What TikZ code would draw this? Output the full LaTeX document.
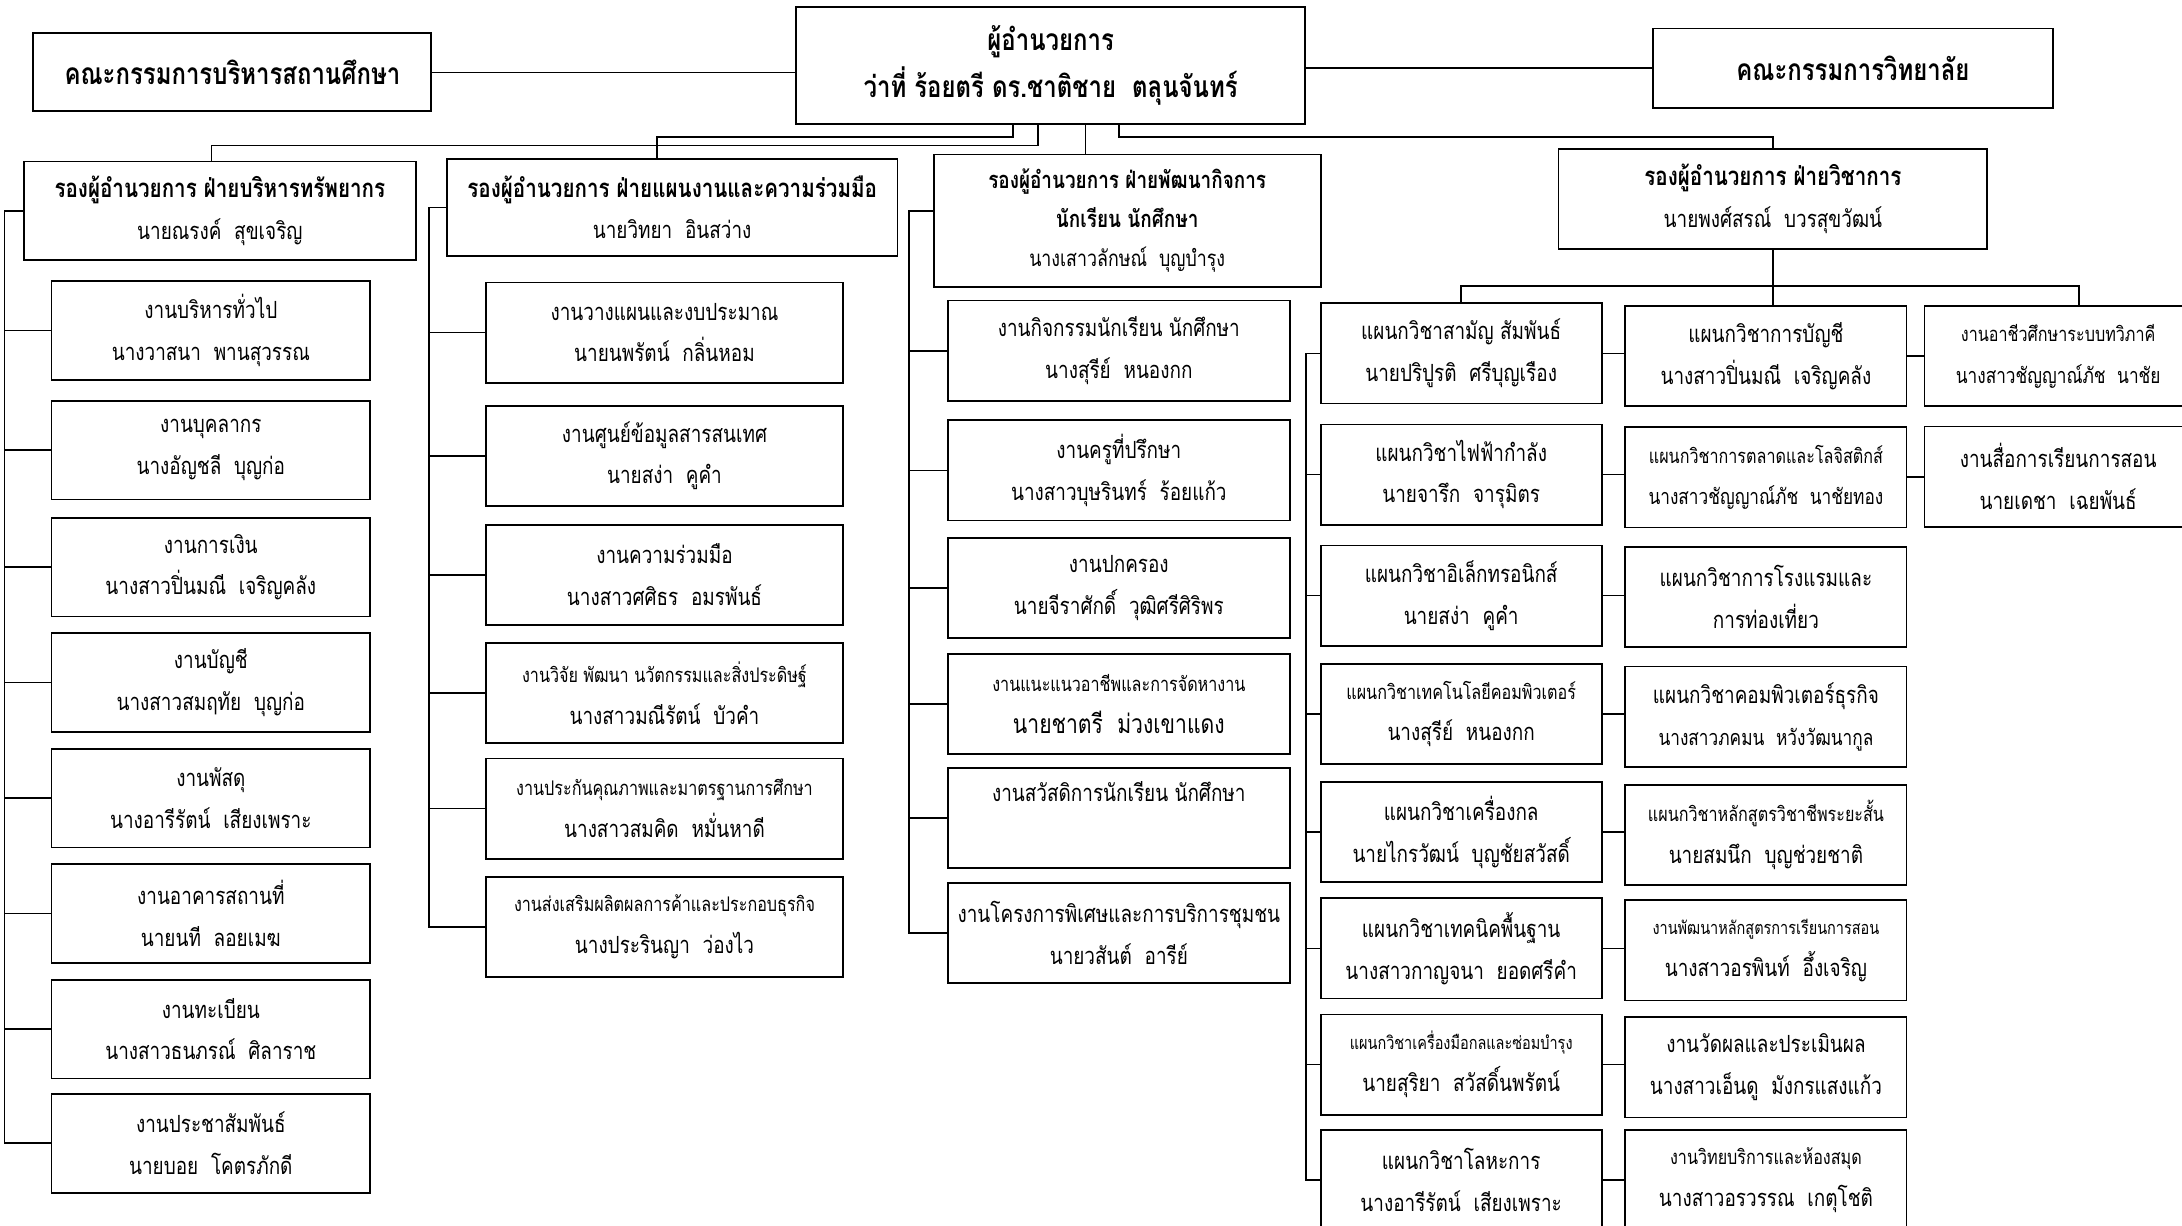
\documentclass[tikz,border=0pt]{standalone}
\usepackage{fontspec}
\setmainfont{Loma}[Script=Thai,FakeStretch=0.8]
\usetikzlibrary{positioning,calc}

% font sizes (1 unit = 1pt)
\newcommand\szN{\fontsize{17}{30}\selectfont}
\newcommand\szS{\fontsize{14.5}{30}\selectfont}
\newcommand\szX{\fontsize{13}{30}\selectfont}
\newcommand\szM{\fontsize{15.5}{30}\selectfont}
\newcommand\szL{\fontsize{19}{30}\selectfont}
\newcommand\szB{\fontsize{18.5}{30}\selectfont}
\newcommand\szH{\fontsize{16}{28}\selectfont}
\newcommand\szT{\fontsize{21.5}{34}\selectfont}

\tikzset{
  box/.style={draw, line width=1.3pt, align=center, inner sep=0pt, font=\szN},
  topbox/.style={box, font=\szT\bfseries},
  link/.style={line width=1.2pt},
}

\begin{document}
\begin{tikzpicture}[x=1pt, y=-1pt]
    \fill[white] (0,0) rectangle (1568,881);
    \useasboundingbox (0,0) rectangle (1568,881);

    % Director and committees
    \node[topbox, minimum width=286pt, minimum height=56pt] (cmtL) at (167,52) {คณะกรรมการบริหารสถานศึกษา};
    \node[topbox, minimum width=366pt, minimum height=84pt] (dir) at (755,47) {ผู้อำนวยการ\\ว่าที่ ร้อยตรี ดร.ชาติชาย~~ตลุนจันทร์};
    \node[topbox, minimum width=287pt, minimum height=57pt] (cmtR) at (1331.5,49) {คณะกรรมการวิทยาลัย};
    \draw[link] (cmtL.east) -- (cmtL.east -| dir.west);
    \draw[link] (dir.east |- cmtR.west) -- (cmtR.west);

    % Deputy directors
    \node[box, minimum width=282pt, minimum height=71pt] (hA) at (158,151.5) {{\szB\bfseries รองผู้อำนวยการ ฝ่ายบริหารทรัพยากร}\\นายณรงค์~~สุขเจริญ};
    \node[box, minimum width=324pt, minimum height=70pt] (hB) at (483,149) {{\szB\bfseries รองผู้อำนวยการ ฝ่ายแผนงานและความร่วมมือ}\\นายวิทยา~~อินสว่าง};
    \node[box, minimum width=278pt, minimum height=95pt, font=\szH] (hC) at (810,158.5) {{\fontsize{17}{28}\selectfont\bfseries รองผู้อำนวยการ ฝ่ายพัฒนากิจการ}\\{\fontsize{17}{28}\selectfont\bfseries นักเรียน นักศึกษา}\\นางเสาวลักษณ์~~บุญบำรุง};
    \node[box, minimum width=308pt, minimum height=72pt] (hD) at (1274,143) {{\szB\bfseries รองผู้อำนวยการ ฝ่ายวิชาการ}\\นายพงศ์สรณ์~~บวรสุขวัฒน์};

    \draw[link] ([xshift=-9pt]dir.south) -- ++(0,15) -| ([xshift=-6pt]hA.north);
    \draw[link] ([xshift=-27pt]dir.south) -- ++(0,9) -| ([xshift=-11pt]hB.north);
    \draw[link] ([xshift=25pt]dir.south) -- ([xshift=25pt]dir.south |- hC.north);
    \draw[link] ([xshift=49pt]dir.south) -- ++(0,9) -| (hD.north);

    % Resources
    \foreach \i/\y/\txt in {
        1/237.5/{งานบริหารทั่วไป\\นางวาสนา~~พานสุวรรณ},
        2/323.5/{งานบุคลากร\\นางอัญชลี~~บุญก่อ},
        3/407.5/{งานการเงิน\\นางสาวปิ่นมณี~~เจริญคลัง},
        4/490.5/{งานบัญชี\\นางสาวสมฤทัย~~บุญก่อ},
        5/573.5/{งานพัสดุ\\นางอารีรัตน์~~เสียงเพราะ},
        6/656.5/{งานอาคารสถานที่\\นายนที~~ลอยเมฆ},
        7/739.5/{งานทะเบียน\\นางสาวธนภรณ์~~ศิลาราช},
        8/821.5/{งานประชาสัมพันธ์\\นายบอย~~โคตรภักดี}} {
        \node[box, minimum width=229pt, minimum height=71pt] (a\i) at (151.5,\y) {\txt};
        \draw[link] (hA.west) -- ++(-13,0) |- (a\i.west);
    }

    % Planning and cooperation
    \foreach \i/\y/\txt in {
        1/239/{งานวางแผนและงบประมาณ\\นายนพรัตน์~~กลิ่นหอม},
        2/327.5/{งานศูนย์ข้อมูลสารสนเทศ\\นายสง่า~~คูคำ},
        3/413/{งานความร่วมมือ\\นางสาวศศิธร~~อมรพันธ์},
        4/498/{{\szS งานวิจัย พัฒนา นวัตกรรมและสิ่งประดิษฐ์}\\นางสาวมณีรัตน์~~บัวคำ},
        5/581/{{\szS งานประกันคุณภาพและมาตรฐานการศึกษา}\\นางสาวสมคิด~~หมั่นหาดี},
        6/666/{{\szS งานส่งเสริมผลิตผลการค้าและประกอบธุรกิจ}\\นางประรินญา~~ว่องไว}} {
        \node[box, minimum width=257pt, minimum height=72pt] (b\i) at (477.5,\y) {\txt};
        \draw[link] (hB.west) -- ++(-12,0) |- (b\i.west);
    }

    % Student affairs
    \foreach \i/\y/\txt in {
        1/252/{งานกิจกรรมนักเรียน นักศึกษา\\นางสุรีย์~~หนองกก},
        2/338/{งานครูที่ปรึกษา\\นางสาวบุษรินทร์~~ร้อยแก้ว},
        3/422.5/{งานปกครอง\\นายจีราศักดิ์~~วุฒิศรีศิริพร},
        4/506/{{\szS งานแนะแนวอาชีพและการจัดหางาน}\\{\szL นายชาตรี~~ม่วงเขาแดง}},
        5/588/{งานสวัสดิการนักเรียน นักศึกษา\\\strut},
        6/670.5/{งานโครงการพิเศษและการบริการชุมชน\\นายวสันต์~~อารีย์}} {
        \node[box, minimum width=246pt, minimum height=72pt] (c\i) at (804,\y) {\txt};
        \draw[link] ([yshift=7pt]hC.west) -- ++(-17,0) |- (c\i.west);
    }

    % Academic: departments
    \foreach \i/\y/\txt in {
        1/254/{แผนกวิชาสามัญ สัมพันธ์\\นายปริปูรติ~~ศรีบุญเรือง},
        2/341/{แผนกวิชาไฟฟ้ากำลัง\\นายจารึก~~จารุมิตร},
        3/428/{แผนกวิชาอิเล็กทรอนิกส์\\นายสง่า~~คูคำ},
        4/513/{{\szS แผนกวิชาเทคโนโลยีคอมพิวเตอร์}\\นางสุรีย์~~หนองกก},
        5/598/{แผนกวิชาเครื่องกล\\นายไกรวัฒน์~~บุญชัยสวัสดิ์},
        6/681.5/{แผนกวิชาเทคนิคพื้นฐาน\\นางสาวกาญจนา~~ยอดศรีคำ},
        7/765/{{\szX แผนกวิชาเครื่องมือกลและซ่อมบำรุง}\\นายสุริยา~~สวัสดิ์นพรัตน์},
        8/848/{แผนกวิชาโลหะการ\\นางอารีรัตน์~~เสียงเพราะ}} {
        \node[box, minimum width=202pt, minimum height=72pt] (dA\i) at (1050,\y) {\txt};
        \draw[link] (dA1.west) -- ++(-10,0) |- (dA\i.west);
    }
    \foreach \i/\y/\txt in {
        1/256/{แผนกวิชาการบัญชี\\นางสาวปิ่นมณี~~เจริญคลัง},
        2/343/{{\szS แผนกวิชาการตลาดและโลจิสติกส์}\\{\szM นางสาวชัญญาณ์ภัช~~นาชัยทอง}},
        3/429/{แผนกวิชาการโรงแรมและ\\การท่องเที่ยว},
        4/515/{แผนกวิชาคอมพิวเตอร์ธุรกิจ\\{\szM นางสาวภคมน~~หวังวัฒนากูล}},
        5/600/{{\szS แผนกวิชาหลักสูตรวิชาชีพระยะสั้น}\\นายสมนึก~~บุญช่วยชาติ},
        6/683/{{\szX งานพัฒนาหลักสูตรการเรียนการสอน}\\นางสาวอรพินท์~~อึ้งเจริญ},
        7/767/{งานวัดผลและประเมินผล\\นางสาวเอ็นดู~~มังกรแสงแก้ว},
        8/848/{{\szS งานวิทยบริการและห้องสมุด}\\นางสาวอรวรรณ~~เกตุโชติ}} {
        \node[box, minimum width=202pt, minimum height=72pt] (dB\i) at (1269,\y) {\txt};
        \draw[link] (dA\i.east) -- (dA\i.east -| dB\i.west);
    }
    \foreach \i/\y/\txt in {
        1/256/{{\szS งานอาชีวศึกษาระบบทวิภาคี}\\{\szM นางสาวชัญญาณ์ภัช~~นาชัย}},
        2/342.5/{งานสื่อการเรียนการสอน\\นายเดชา~~เฉยพันธ์}} {
        \node[box, minimum width=192pt, minimum height=72pt] (dC\i) at (1479,\y) {\txt};
        \draw[link] (dB\i.east) -- (dB\i.east -| dC\i.west);
    }
    \draw[link] (hD.south) -- (hD.south |- dB1.north);
    \draw[link] (dA1.north) |- ([yshift=-26pt]hD.south) -| ([xshift=15pt]dC1.north);
\end{tikzpicture}
\end{document}
